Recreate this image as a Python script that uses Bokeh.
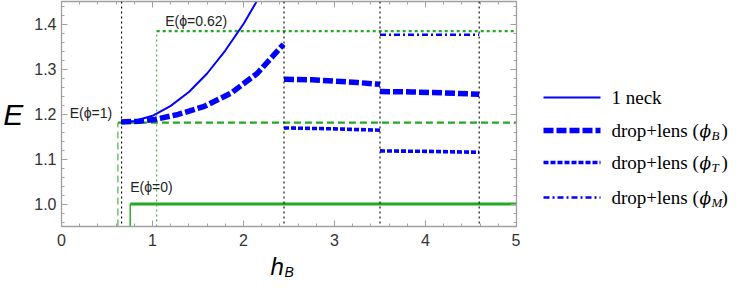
from bokeh.plotting import figure
from bokeh.layouts import row, column
from bokeh.models import (Span, LinearAxis, SingleIntervalTicker, PrintfTickFormatter,
                          CustomJSTickFormatter, Range1d)
from bokeh.core.properties import value
from bokeh.embed import file_html
from bokeh.resources import INLINE

# ---------------- data ----------------
X_MIN, X_MAX = 0.0, 5.0
Y_MIN, Y_MAX = 0.95, 1.45

# 1 neck
neck_h = [0.655, 0.80, 1.00, 1.20, 1.40, 1.60, 1.80, 2.00, 2.153]
neck_E = [1.182, 1.1845, 1.196, 1.218, 1.249, 1.290, 1.341, 1.400, 1.453]

# drop+lens (phi_B), three branches
phiB1_h = [0.655, 0.85, 1.03, 1.28, 1.57, 1.86, 2.15, 2.44]
phiB1_E = [1.182, 1.184, 1.188, 1.199, 1.217, 1.246, 1.290, 1.355]
phiB2_h = [2.445, 2.75, 3.00, 3.25, 3.50]
phiB2_E = [1.277, 1.276, 1.273, 1.270, 1.266]
phiB3_h = [3.50, 3.85, 4.20, 4.59]
phiB3_E = [1.250, 1.249, 1.247, 1.244]

# drop+lens (phi_T)
phiT2_h = [2.445, 3.00, 3.50]
phiT2_E = [1.169, 1.167, 1.164]
phiT3_h = [3.50, 4.00, 4.59]
phiT3_E = [1.118, 1.117, 1.115]

# drop+lens (phi_M)
phiM_h = [3.50, 4.59]
phiM_E = [1.376, 1.376]

# reference energy levels E(phi) and the h_B where each one starts
level_names = ["E(ϕ=1)", "E(ϕ=0.62)", "E(ϕ=0)"]
level_E = [1.181, 1.384, 1.000]
level_onset = [0.620, 1.046, 0.755]

# branch transitions (black dotted verticals)
transitions = [0.66, 2.445, 3.50, 4.59]

x_ticks_interval = 1
y_ticks_interval = 0.1

legend_main = ["1 neck", "drop+lens (", "drop+lens (", "drop+lens ("]
legend_subs = ["B", "T", "M"]

# ---------------- styles / layout ----------------
BLUE = "#0000ff"
GREEN = "#22a822"
AXIS_GRAY = "#a0a0a0"
SANS = "Liberation Sans"
SERIF = "Liberation Serif"

MAIN_W, MAIN_H = 520, 250
BORDER_TOP, BORDER_BOTTOM = 1, 24
FRAME_TOP, FRAME_BOTTOM = BORDER_TOP, MAIN_H - BORDER_BOTTOM

p = figure(width=MAIN_W, height=MAIN_H, x_range=(X_MIN, X_MAX), y_range=(Y_MIN, Y_MAX),
           output_backend="svg", toolbar_location=None,
           min_border_left=57, min_border_right=4, min_border_top=BORDER_TOP,
           min_border_bottom=BORDER_BOTTOM)
p.outline_line_color = None
p.grid.visible = False

x_bottom = p.below[0]
y_left = p.left[0]
x_bottom.ticker = SingleIntervalTicker(interval=x_ticks_interval, num_minor_ticks=5)
y_left.ticker = SingleIntervalTicker(interval=y_ticks_interval, num_minor_ticks=5)
y_left.formatter = PrintfTickFormatter(format="%.1f")

blank = CustomJSTickFormatter(code="return ''")
top_ax = LinearAxis(ticker=SingleIntervalTicker(interval=x_ticks_interval, num_minor_ticks=5),
                    formatter=blank)
right_ax = LinearAxis(ticker=SingleIntervalTicker(interval=y_ticks_interval, num_minor_ticks=5),
                      formatter=blank)
p.add_layout(top_ax, "above")
p.add_layout(right_ax, "right")

for ax in [x_bottom, y_left, top_ax, right_ax]:
    ax.axis_line_color = AXIS_GRAY
    ax.axis_line_width = 1.3
    ax.major_tick_line_color = AXIS_GRAY
    ax.minor_tick_line_color = AXIS_GRAY
    ax.major_tick_in = 6
    ax.major_tick_out = 0
    ax.minor_tick_in = 3
    ax.minor_tick_out = 0
    ax.major_label_text_font = SANS
    ax.major_label_text_font_size = "16px"
    ax.major_label_text_color = "#333333"

for ax in [top_ax, right_ax]:
    ax.major_label_standoff = 0
x_bottom.major_label_standoff = 7
y_left.major_label_standoff = 5

y_left.axis_label = "E"
y_left.axis_label_orientation = "horizontal"
y_left.axis_label_text_font = SANS
y_left.axis_label_text_font_style = "italic"
y_left.axis_label_text_font_size = "30px"
y_left.axis_label_text_color = "black"
y_left.axis_label_standoff = 8

# black dotted transitions
for t in transitions:
    p.add_layout(Span(location=t, dimension="height", line_color="black",
                      line_width=1.1, line_dash="2 3"))

# green reference levels
# E(phi=1): dashed
p.segment(x0=[level_onset[0]], x1=[level_onset[0]], y0=[Y_MIN], y1=[level_E[0]],
          line_color=GREEN, line_width=1, line_dash="7 4")
p.segment(x0=[level_onset[0]], x1=[X_MAX], y0=[level_E[0]], y1=[level_E[0]],
          line_color=GREEN, line_width=2.3, line_dash="7 4")
# E(phi=0.62): dotted
p.segment(x0=[level_onset[1]], x1=[level_onset[1]], y0=[Y_MIN], y1=[level_E[1]],
          line_color=GREEN, line_width=1, line_dash="2 3")
p.segment(x0=[level_onset[1]], x1=[X_MAX], y0=[level_E[1]], y1=[level_E[1]],
          line_color=GREEN, line_width=2.2, line_dash="3 3")
# E(phi=0): solid
p.segment(x0=[level_onset[2]], x1=[level_onset[2]], y0=[Y_MIN], y1=[level_E[2]],
          line_color=GREEN, line_width=1.4)
p.segment(x0=[level_onset[2]], x1=[X_MAX], y0=[level_E[2]], y1=[level_E[2]],
          line_color=GREEN, line_width=2.8)

# blue branches
p.line(neck_h, neck_E, line_color=BLUE, line_width=2)
for hx, ey in [(phiB1_h, phiB1_E), (phiB2_h, phiB2_E), (phiB3_h, phiB3_E)]:
    p.line(hx, ey, line_color=BLUE, line_width=5.5, line_dash="10 3")
for hx, ey in [(phiT2_h, phiT2_E), (phiT3_h, phiT3_E)]:
    p.line(hx, ey, line_color=BLUE, line_width=3.6, line_dash="5 2")
p.line(phiM_h, phiM_E, line_color=BLUE, line_width=2.5, line_dash="6 3 2 3")

# level labels
p.text(x=[0.556], y=[level_E[0] + 0.022], text=[level_names[0]], text_font=value(SANS),
       text_font_size="14px", text_align="right", text_baseline="middle", text_color="#222222")
p.text(x=[1.14], y=[level_E[1] + 0.022], text=[level_names[1]], text_font=value(SANS),
       text_font_size="14px", text_align="left", text_baseline="middle", text_color="#222222")
p.text(x=[level_onset[2]], y=[level_E[2] + 0.038], text=[level_names[2]], text_font=value(SANS),
       text_font_size="14px", text_align="left", text_baseline="middle", text_color="#222222")

# ---------------- x-axis title panel (h_B) ----------------
BH = 284 - MAIN_H
B = figure(width=MAIN_W, height=BH, x_range=(0, MAIN_W), y_range=(BH, 0),
           output_backend="svg", toolbar_location=None,
           x_axis_type=None, y_axis_type=None, min_border=0)
B.outline_line_color = None
B.grid.visible = False
B.text(x=[270], y=[16], text=["h"], text_font=value(SANS), text_font_style="italic",
       text_font_size="24px", text_baseline="middle", text_color="black")
B.text(x=[284], y=[21], text=["B"], text_font=value(SANS), text_font_style="italic",
       text_font_size="14px", text_baseline="middle", text_color="black")

# ---------------- legend panel (frame aligned with the main frame) ----------------
L = figure(width=211, height=MAIN_H, x_range=(0, 211),
           y_range=Range1d(start=FRAME_BOTTOM, end=FRAME_TOP),
           output_backend="svg", toolbar_location=None,
           x_axis_type=None, y_axis_type=None, min_border=0)
L.outline_line_color = None
L.grid.visible = False

rows_y = [97, 130, 162, 197]
lx0, lx1, tx = 23, 80, 91
styles = [dict(line_width=2), dict(line_width=5.5, line_dash="10 3"),
          dict(line_width=3.6, line_dash="5 2"), dict(line_width=2.5, line_dash="6 3 2 3")]
for yy, st in zip(rows_y, styles):
    L.line([lx0, lx1], [yy, yy], line_color=BLUE, **st)

L.text(x=[tx], y=[rows_y[0]], text=[legend_main[0]], text_font=value(SERIF),
       text_font_size="19px", text_baseline="middle", text_color="black")
for i, sub in enumerate(legend_subs):
    yy = rows_y[i + 1]
    L.text(x=[tx], y=[yy], text=[legend_main[i + 1]], text_font=value(SERIF),
           text_font_size="19px", text_baseline="middle", text_color="black")
    L.text(x=[tx + 88], y=[yy], text=["ϕ"], text_font=value("DejaVu Serif"),
           text_font_style="italic", text_font_size="17px", text_baseline="middle",
           text_color="black")
    L.text(x=[tx + 100], y=[yy + 5], text=[sub], text_font=value(SERIF),
           text_font_style="italic", text_font_size="13px", text_baseline="middle",
           text_color="black")
    L.text(x=[tx + 110], y=[yy], text=[")"], text_font=value(SERIF),
           text_font_size="19px", text_baseline="middle", text_color="black")

layout = column(row(p, L), B)
open("out.html", "w").write(file_html(layout, INLINE))
